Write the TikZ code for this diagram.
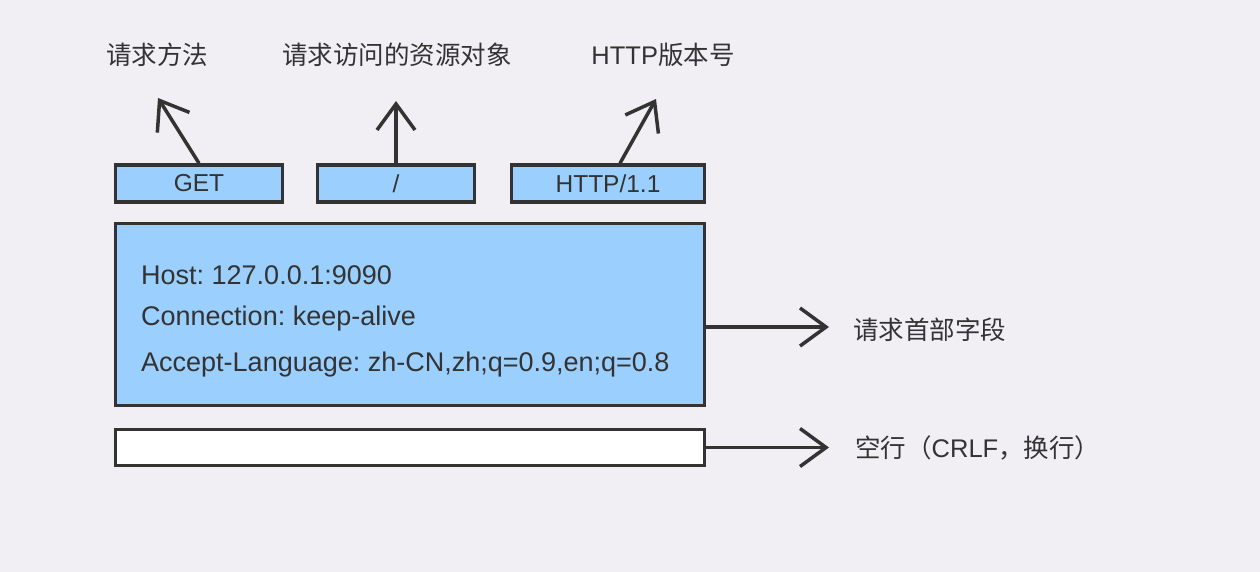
\documentclass[tikz,border=0pt]{standalone}
\usepackage{fontspec}
\setmainfont{Liberation Sans}
\newfontfamily\cjk{Noto Sans CJK SC}
\frenchspacing
\usetikzlibrary{arrows.meta,positioning}
\definecolor{paper}{HTML}{F1EFF4}
\definecolor{field}{HTML}{9BCFFD}
\definecolor{ink}{HTML}{333333}

\tikzset{
  cell/.style={draw=ink,fill=field,line width=3.5pt,minimum height=37pt,
    inner sep=0pt,text=ink,font=\fontsize{24.5}{28}\selectfont},
  note/.style={text=ink,inner sep=0pt,font=\fontsize{25.5}{30}\selectfont},
  line/.style={text=ink,inner sep=0pt,anchor=west,font=\fontsize{27}{30}\selectfont},
  conn/.style={ink,line width=3.5pt,-{Straight Barb[length=26pt,width=38pt,line width=3.5pt]}}
}

\begin{document}
\begin{tikzpicture}[x=1pt,y=-1pt]
  % Background
  \fill[paper] (0,0) rectangle (1260,572);
  \useasboundingbox (0,0) rectangle (1260,572);

  % Request line
  \node[cell,minimum width=167pt] (method) at (199,183.5) {GET};
  \node[cell,minimum width=157pt] (uri) at (396,183.5) {/};
  \node[cell,minimum width=193pt] (ver) at (608,183.5) {HTTP/1.1};

  \node[note] (methodlbl) at (157,55) {\cjk 请求方法};
  \node[note] (urilbl) at (397,55) {\cjk 请求访问的资源对象};
  \node[note] (verlbl) at (663,55) {HTTP{\cjk 版本号}};

  \coordinate (methodend) at (158,98);
  \coordinate (uriend) at (396,101);
  \coordinate (verend) at (656,99);
  \draw[conn] (method.north) -- (methodend);
  \draw[conn] (uri.north) -- (uriend);
  \draw[conn] ([xshift=12pt]ver.north) -- (verend);

  % Header fields
  \node[cell,minimum width=589pt,minimum height=182pt] (head) at (410,314.5) {};
  \node[line] (host) at (141,275) {Host: 127.0.0.1:9090};
  \node[line] (keep) at (141,319) {Connection: keep-alive};
  \node[line] (lang) at (141,365) {Accept-Language: zh-CN,zh;q=0.9,en;q=0.8};

  % Empty line
  \node[cell,fill=white,minimum width=589pt,minimum height=36pt] (crlf) at (410,447.5) {};

  \node[note,anchor=west] (headlbl) at (853,330) {\cjk 请求首部字段};
  \node[note,anchor=west] (crlflbl) at (855,448) {{\cjk 空行（}CRLF{\cjk ，换行）}};

  \coordinate (headend) at (829,327);
  \coordinate (crlfend) at (829,447.5);
  \draw[conn] ([yshift=-12.5pt]head.east) -- (headend);
  \draw[conn] (crlf.east) -- (crlfend);
\end{tikzpicture}
\end{document}
